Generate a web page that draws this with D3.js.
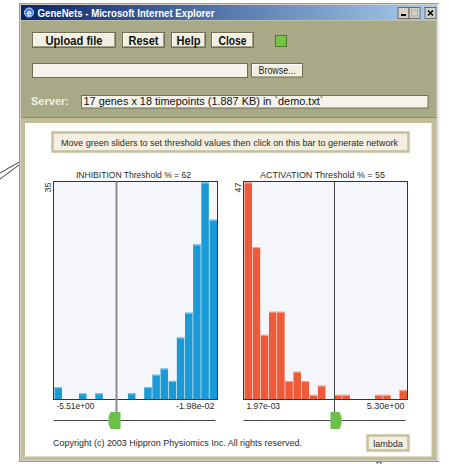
<!DOCTYPE html>
<html><head><meta charset="utf-8">
<script src="https://cdn.jsdelivr.net/npm/d3@7"></script>
<style>html,body{margin:0;padding:0;background:#fff;}svg{display:block;}</style>
</head><body>
<script>
// ---- data ----
const binIndex = d3.range(20);
const inhibitionCounts = [2,0,0,1,0,1,0,0,0,1,0,2,4,5,3,10,14,25,35,29];
const activationCounts = [47,33,14,19,19,4,6,4,1,3,0,1,1,0,0,0,1,1,0,2];
const inhibitionMax = 35, activationMax = 47;
const inhibitionTicks = ["-5.51e+00","-1.98e-02"];
const activationTicks = ["1.97e-03","5.30e+00"];
const inhibitionThreshold = 62, activationThreshold = 55;
const buttonLabels = ["Upload file","Reset","Help","Close"];
const titleText = "GeneNets - Microsoft Internet Explorer";
const serverText = "17 genes x 18 timepoints (1.887 KB) in `demo.txt`";
const messageText = "Move green sliders to set threshold values then click on this bar to generate network";
const copyrightText = "Copyright (c) 2003 Hippron Physiomics Inc. All rights reserved.";

const W = 449, H = 464;
const svg = d3.select("body").append("svg").attr("width", W).attr("height", H);
const GUI = "'Liberation Sans', Arial, sans-serif";
const defs = svg.append("defs");
const grad = defs.append("linearGradient").attr("id","tb").attr("x1","0").attr("x2","1");
grad.append("stop").attr("offset","0").attr("stop-color","#0a246a");
grad.append("stop").attr("offset","1").attr("stop-color","#a9cdf0");

// pointer lines outside window
svg.append("line").attr("x1",0).attr("y1",173).attr("x2",35).attr("y2",153).attr("stroke","#222").attr("stroke-width",0.9);
svg.append("line").attr("x1",0).attr("y1",179).attr("x2",34).attr("y2",154).attr("stroke","#222").attr("stroke-width",0.9);
svg.append("path").attr("d","M377,464 L379,459 L381,464 M376,462 L382,462").attr("stroke","#333").attr("fill","none").attr("stroke-width",0.8);

// window frame
svg.append("rect").attr("x",19.5).attr("y",3.5).attr("width",419).attr("height",458).attr("fill","#d4d0c8").attr("stroke","#9a9a9a");
svg.append("line").attr("x1",438.5).attr("x2",438.5).attr("y1",4).attr("y2",461).attr("stroke","#eeeeee").attr("stroke-width",2);
svg.append("rect").attr("x",21).attr("y",5).attr("width",416).attr("height",15).attr("fill","url(#tb)");
// IE icon
svg.append("circle").attr("cx",29).attr("cy",12.5).attr("r",4.5).attr("fill","#3a7fd8").attr("stroke","#cfe3ff").attr("stroke-width",1);
svg.append("text").attr("x",26.5).attr("y",16).attr("font-family",GUI).attr("font-weight","bold").attr("font-size",9).attr("fill","#fff").text("e");
svg.append("text").attr("x",37.5).attr("y",16.5).attr("font-family",GUI).attr("font-weight","bold").attr("font-size",11)
  .attr("fill","#fff").attr("textLength",177).attr("lengthAdjust","spacingAndGlyphs").text(titleText);
// caption buttons
[[398,"min"],[409,"max"],[425,"close"]].forEach(([x,k])=>{
  svg.append("rect").attr("x",x).attr("y",7.5).attr("width",11).attr("height",11).attr("fill","#d4d0c8")
    .attr("stroke","#555").attr("stroke-width",0.8);
  if(k==="min") svg.append("rect").attr("x",x+3).attr("y",14).attr("width",5).attr("height",2).attr("fill","#000");
  if(k==="max") svg.append("rect").attr("x",x+2.5).attr("y",10).attr("width",6).attr("height",6).attr("fill","none").attr("stroke","#aaa");
  if(k==="close") svg.append("path").attr("d",`M${x+3},10.5 L${x+8},15.5 M${x+8},10.5 L${x+3},15.5`).attr("stroke","#000").attr("stroke-width",1.6);
});

// olive panel
svg.append("rect").attr("x",21).attr("y",20.5).attr("width",415.5).attr("height",96.5).attr("fill","#a8a986");
svg.append("line").attr("x1",21).attr("x2",437).attr("y1",117.5).attr("y2",117.5).attr("stroke","#8a8a78");
// khaki frame around white panel
svg.append("rect").attr("x",21).attr("y",118).attr("width",415.5).attr("height",342).attr("fill","#c3be9a");
svg.append("rect").attr("x",25).attr("y",123).attr("width",406.5).attr("height",333.5).attr("fill","#ffffff");

// buttons
const btnX = [[32,116],[122,165],[171,206],[211,254]];
const btnTextW = [57,30,24,28];
buttonLabels.forEach((lab,i)=>{
  const [x0,x1] = btnX[i];
  svg.append("rect").attr("x",x0+0.5).attr("y",32.5).attr("width",x1-x0-1).attr("height",15).attr("fill","#f2efe0").attr("stroke","#6e6e58");
  svg.append("path").attr("d",`M${x0+1.5},46.5 L${x0+1.5},33.5 L${x1-1.5},33.5`).attr("stroke","#fff").attr("fill","none");
  svg.append("path").attr("d",`M${x0+1.5},46.5 L${x1-1.5},46.5 L${x1-1.5},33.5`).attr("stroke","#a09f88").attr("fill","none");
  svg.append("text").attr("x",(x0+x1)/2).attr("y",44.5).attr("text-anchor","middle").attr("font-family",GUI)
    .attr("font-weight","bold").attr("font-size",12).attr("fill","#111")
    .attr("textLength",btnTextW[i]).attr("lengthAdjust","spacingAndGlyphs").text(lab);
});
svg.append("rect").attr("x",275.5).attr("y",35.5).attr("width",11).attr("height",11).attr("fill","#7cc242").attr("stroke","#4d7a2a");

// file input + browse
svg.append("rect").attr("x",32.5).attr("y",63.5).attr("width",215).attr("height",14).attr("fill","#f5f3ea").attr("stroke","#6e6e58");
svg.append("rect").attr("x",251.5).attr("y",63.5).attr("width",51).attr("height",13.5).attr("fill","#f2efe0").attr("stroke","#6e6e58");
svg.append("path").attr("d","M252.5,76 L252.5,64.5 L302,64.5").attr("stroke","#fff").attr("fill","none");
svg.append("text").attr("x",277).attr("y",74).attr("text-anchor","middle").attr("font-family",GUI).attr("font-size",10)
  .attr("fill","#222").attr("textLength",37).attr("lengthAdjust","spacingAndGlyphs").text("Browse...");

// server
svg.append("text").attr("x",31).attr("y",105).attr("font-family",GUI).attr("font-weight","bold").attr("font-size",11.5)
  .attr("fill","#f0f0e6").attr("textLength",38).attr("lengthAdjust","spacingAndGlyphs").text("Server:");
svg.append("rect").attr("x",81.5).attr("y",95.5).attr("width",346.5).attr("height",12.5).attr("fill","#f5f3ea").attr("stroke","#6e6e58");
svg.append("text").attr("x",83.5).attr("y",105).attr("font-family",GUI).attr("font-size",10.5).attr("fill","#111")
  .attr("textLength",240).attr("lengthAdjust","spacingAndGlyphs").text(serverText);

// message bar
const PF = "'Liberation Sans', Arial, sans-serif";
const TC = "#2a2a2a";
svg.append("rect").attr("x",52.5).attr("y",132.5).attr("width",356).attr("height",19).attr("fill","#f3f0e2").attr("stroke","#c5bf9c").attr("stroke-width",2.5);
svg.append("text").attr("x",61).attr("y",146).attr("font-family",PF).attr("font-size",9).attr("fill",TC)
  .attr("textLength",337).attr("lengthAdjust","spacingAndGlyphs").text(messageText);

// histograms
function histogram(cfg){
  const {x0,x1,counts,max,ticks,thr,color,edge,title,titleX,titleW,fromRight,lineColor,lineW,sliderDir} = cfg;
  const y0 = 181.5, y1 = 399.5;
  const x = d3.scaleBand().domain(binIndex).range([x0+1,x1-0.5]).paddingInner(0.08);
  const y = d3.scaleLinear().domain([0,max]).range([y1,y0+1]);
  const tScale = d3.scaleLinear().domain([0,100]).range(fromRight?[x1,x0]:[x0,x1]);
  const g = svg.append("g");
  g.append("rect").attr("x",x0).attr("y",y0).attr("width",x1-x0).attr("height",y1-y0).attr("fill","#f4f6f9");
  g.selectAll("rect.bar").data(binIndex.filter(i=>counts[i]>0)).join("rect").attr("class","bar")
    .attr("x",i=>x(i)).attr("width",x.bandwidth()).attr("y",i=>y(counts[i])).attr("height",i=>y1-y(counts[i]))
    .attr("fill",color);
  g.selectAll("line.edge").data(binIndex.filter(i=>counts[i]>0)).join("line").attr("class","edge")
    .attr("x1",i=>x(i)).attr("x2",i=>x(i)+x.bandwidth()).attr("y1",i=>y(counts[i])+0.5).attr("y2",i=>y(counts[i])+0.5)
    .attr("stroke",edge).attr("stroke-width",1);
  g.append("rect").attr("x",x0).attr("y",y0).attr("width",x1-x0).attr("height",y1-y0).attr("fill","none").attr("stroke","#333");
  const tx = Math.round(tScale(thr))+0.5;
  g.append("line").attr("x1",tx).attr("x2",tx).attr("y1",y0).attr("y2",413).attr("stroke",lineColor).attr("stroke-width",lineW);
  // y max label
  g.append("text").attr("transform",`translate(${x0-3},${y0+1}) rotate(-90)`).attr("text-anchor","end")
    .attr("font-family",PF).attr("font-size",9).attr("fill",TC).text(max);
  // tick labels
  g.append("text").attr("x",x0+3).attr("y",409).attr("font-family",PF).attr("font-size",9).attr("fill",TC)
    .attr("textLength",ticks[0].length*4.2).attr("lengthAdjust","spacingAndGlyphs").text(ticks[0]);
  g.append("text").attr("x",x1-3).attr("y",409).attr("text-anchor","end").attr("font-family",PF).attr("font-size",9).attr("fill",TC)
    .text(ticks[1]);
  // slider track
  g.append("line").attr("x1",x0).attr("x2",x1-2).attr("y1",420.5).attr("y2",420.5).attr("stroke","#444").attr("stroke-width",1);
  // slider knob
  let pts;
  if(sliderDir<0){ const r=tx+4, l=tx-8; pts=[[l+2,412],[r,412],[r,429],[l+2,429],[l,424],[l,417]]; }
  else { const l=tx-4, r=tx+7; pts=[[l,412],[r-2,412],[r,417],[r,424],[r-2,429],[l,429]]; }
  g.append("polygon").attr("points",pts.map(p=>p.join(",")).join(" ")).attr("fill","#6cc04a");
  // title
  g.append("text").attr("x",titleX).attr("y",178).attr("font-family",PF).attr("font-size",9.5).attr("fill",TC)
    .attr("textLength",titleW).attr("lengthAdjust","spacingAndGlyphs").text(title+" Threshold % = "+thr);
}
histogram({x0:53.5,x1:217.5,counts:inhibitionCounts,max:inhibitionMax,ticks:inhibitionTicks,thr:inhibitionThreshold,
  color:"#1a9ad6",edge:"#86cdee",title:"INHIBITION",titleX:76,titleW:115,fromRight:true,lineColor:"#8c8c8c",lineW:2,sliderDir:-1});
histogram({x0:243.5,x1:407.5,counts:activationCounts,max:activationMax,ticks:activationTicks,thr:activationThreshold,
  color:"#f05a38",edge:"#f9a58e",title:"ACTIVATION",titleX:260,titleW:125,fromRight:false,lineColor:"#444",lineW:1,sliderDir:1});

// copyright + lambda
svg.append("text").attr("x",53).attr("y",446).attr("font-family",PF).attr("font-size",9).attr("fill",TC)
  .attr("textLength",249).attr("lengthAdjust","spacingAndGlyphs").text(copyrightText);
svg.append("rect").attr("x",367.5).attr("y",435.5).attr("width",41).attr("height",15).attr("fill","#f3f0e2").attr("stroke","#c5bf9c").attr("stroke-width",2.5);
svg.append("text").attr("x",388).attr("y",446.5).attr("text-anchor","middle").attr("font-family",PF).attr("font-size",9).attr("fill",TC).text("lambda");
</script>
</body></html>
